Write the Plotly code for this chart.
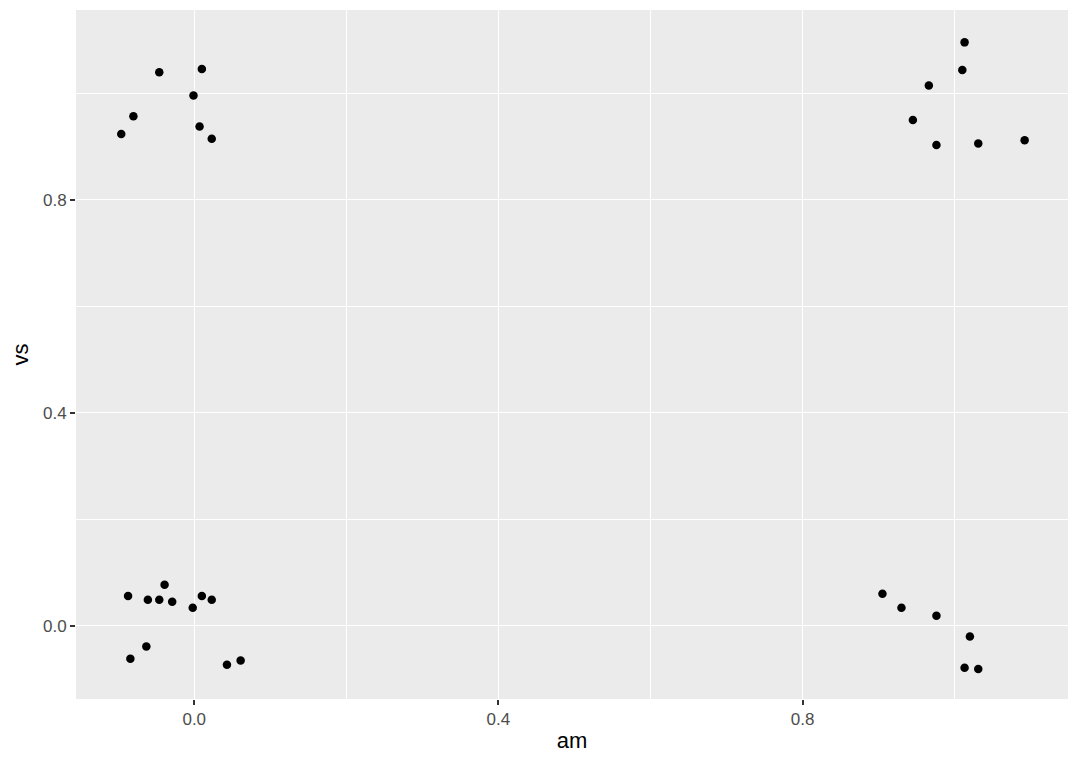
import plotly.graph_objects as go

# jittered am / vs values
am = [
    -0.046, 0.010, -0.001, -0.080, -0.096, 0.007, 0.023,
    -0.087, -0.061, -0.046, -0.039, -0.029, -0.002, 0.010, 0.023,
    -0.084, -0.063, 0.043, 0.061,
    1.013, 1.010, 0.966, 0.945, 0.976, 1.031, 1.092,
    0.905, 0.930, 0.976, 1.020, 1.013, 1.031,
]
vs = [
    1.040, 1.046, 0.996, 0.957, 0.924, 0.938, 0.915,
    0.056, 0.049, 0.049, 0.077, 0.045, 0.034, 0.056, 0.049,
    -0.062, -0.039, -0.073, -0.065,
    1.096, 1.044, 1.015, 0.950, 0.903, 0.906, 0.912,
    0.060, 0.034, 0.019, -0.020, -0.079, -0.081,
]

fig = go.Figure(
    go.Scatter(
        x=am, y=vs, mode="markers",
        marker=dict(color="black", size=8.5, line=dict(width=0)),
        showlegend=False,
    )
)

axis_style = dict(
    automargin=False,
    showgrid=True, gridcolor="white", gridwidth=1.1,
    zeroline=False, showline=False,
    ticks="outside", ticklen=5, tickwidth=1.5, tickcolor="#333333",
    tickfont=dict(size=17, color="#4d4d4d"),
    tickformat=".1f", tick0=0, dtick=0.4,
    minor=dict(dtick=0.2, tick0=0, showgrid=True, gridcolor="white", gridwidth=0.5),
    title_font=dict(size=22, color="black"),
)

fig.update_xaxes(range=[-0.1555, 1.149], title_text="am", title_standoff=4, **axis_style)
fig.update_yaxes(range=[-0.1375, 1.1568], title_text="vs", title_standoff=8, **axis_style)

fig.update_layout(
    width=1080, height=771,
    margin=dict(l=76, r=12, t=10, b=72),
    plot_bgcolor="#ebebeb", paper_bgcolor="white",
    font=dict(family="Liberation Sans, Arial, sans-serif"),
)

fig.write_html("out.html", config={"displayModeBar": False},
               post_script="document.body.style.margin='0';")
